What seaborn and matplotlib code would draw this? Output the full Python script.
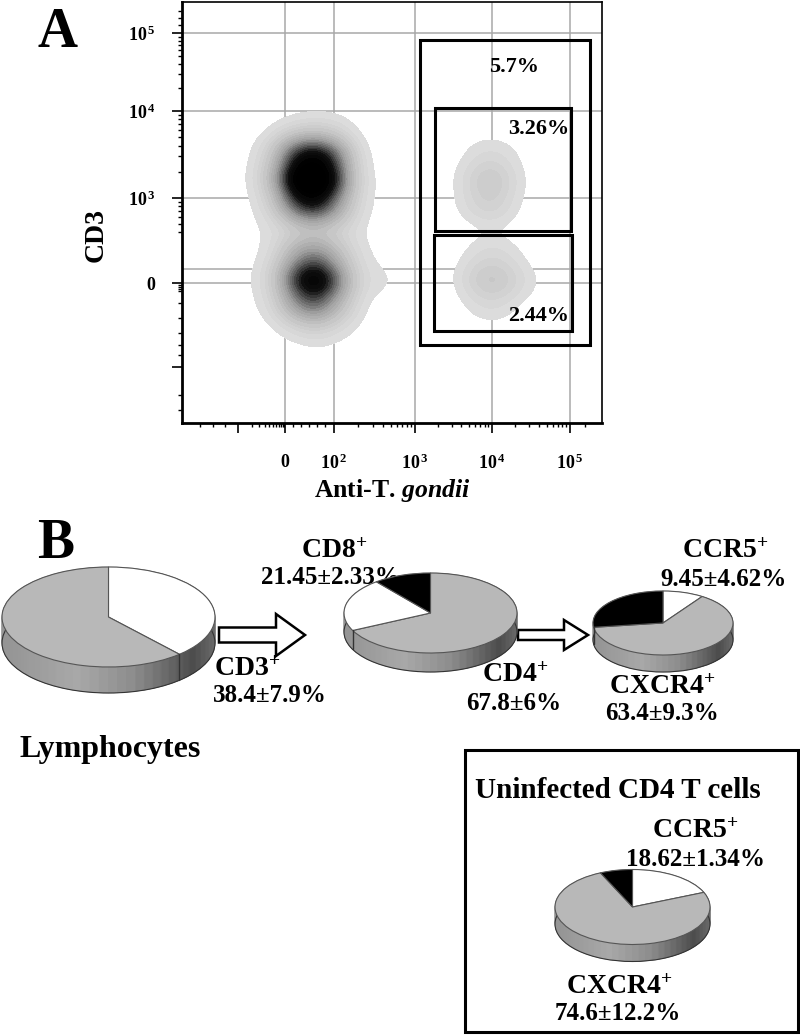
import numpy as np
import pandas as pd
import seaborn as sns
import matplotlib.pyplot as plt
from matplotlib.colors import LinearSegmentedColormap
from matplotlib.patches import FancyArrow, Rectangle

# flow plot axis ticks (biexponential channels, 1 channel = 1 px)
x_ticks = [-47, 0, 49, 130, 207, 285]
x_labels = ['', '0', r'10$^{\,2}$', r'10$^{\,3}$', r'10$^{\,4}$', r'10$^{\,5}$']
y_ticks = [-84, 0, 85, 172, 250]
y_labels = ['', '0', r'10$^{\,3}$', r'10$^{\,4}$', r'10$^{\,5}$']
x_grid = [0, 49, 130, 207, 285]
y_grid = [0, 14, 85, 172, 250]

# event density, one list per CD3 channel row
grid_x = [-30, -10, 10, 30, 50, 70, 90, 110, 175, 190, 207, 225, 245]
grid_y = [153, 128, 103, 78, 53, 28, 3, -22, -47]
row_153 = [0, 1, 4, 7, 6, 1, 0, 0, 0, 0, 0, 0, 0]
row_128 = [1, 12, 70, 95, 60, 4, 0, 0, 0, 3, 6, 3, 0]
row_103 = [2, 22, 110, 125, 80, 5, 1, 0, 1, 9, 18, 6, 0]
row_78 = [1, 10, 60, 85, 40, 4, 1, 0, 1, 7, 12, 3, 0]
row_53 = [1, 3, 6, 10, 6, 3, 0, 0, 0, 0, 1, 0, 0]
row_28 = [1, 3, 30, 50, 25, 4, 1, 0, 0, 3, 7, 4, 0]
row_3 = [2, 8, 70, 110, 60, 6, 4, 2, 1, 11, 18, 11, 3]
row_m22 = [1, 5, 38, 60, 25, 3, 0, 0, 0, 3, 6, 2, 0]
row_m47 = [0, 1, 3, 7, 3, 1, 0, 0, 0, 0, 0, 0, 0]
rows = [row_153, row_128, row_103, row_78, row_53, row_28, row_3, row_m22, row_m47]

# gates: left, bottom, right, top
gate_total = [135, -62, 305, 243]
gate_upper = [150, 52, 286, 175]
gate_lower = [149, -48, 287, 48]

# pies, clockwise from 12 o'clock
lymph_values = [38.4, 61.6]
lymph_colors = ['white', '#b8b8b8']
t_values = [67.8, 21.45, 10.75]
t_colors = ['#b8b8b8', 'white', 'black']
cd4_values = [9.45, 63.4, 27.15]
cd4_colors = ['white', '#b8b8b8', 'black']
unin_values = [18.62, 74.6, 6.78]
unin_colors = ['white', '#b8b8b8', 'black']

W, H = 800, 1035

sns.set_theme(style='white')
plt.rcParams['font.family'] = ['Liberation Serif', 'DejaVu Serif']
plt.rcParams['font.weight'] = 'bold'
plt.rcParams['text.color'] = 'black'
plt.rcParams['axes.labelcolor'] = 'black'
plt.rcParams['xtick.color'] = 'black'
plt.rcParams['ytick.color'] = 'black'
plt.rcParams['mathtext.fontset'] = 'custom'
plt.rcParams['mathtext.rm'] = 'Liberation Serif:bold'
plt.rcParams['mathtext.it'] = 'Liberation Serif:italic:bold'
plt.rcParams['mathtext.bf'] = 'Liberation Serif:bold'
plt.rcParams['mathtext.default'] = 'rm'


def box(left, top, right, bottom):
    return [left / W, 1 - bottom / H, (right - left) / W, (bottom - top) / H]


def log_ticks(lo, hi):
    return [lo + (hi - lo) * np.log10(k) for k in range(2, 10)]


def draw_pie(fig, values, colors, cx, cy, rx, ry, depth):
    ax = fig.add_axes(box(cx - rx - 3, cy - ry - 3, cx + rx + 3, cy + ry + depth + 3), zorder=2)
    ax.patch.set_alpha(0)
    d = depth / ry
    # side wall: stacked discs shaded by angle
    n = 72
    mids = (np.arange(n) + 0.5) / n * 360
    shade = np.interp(np.cos(np.radians(mids)), [-1, -0.3, 0.25, 0.8, 1], [0.58, 0.66, 0.55, 0.3, 0.42])
    side = [str(s) for s in shade]
    for k in np.linspace(d, 0, depth + 1):
        wedges, _ = ax.pie([1] * n, colors=side, startangle=0, center=(0, -k), radius=1, normalize=True)
        for w in wedges:
            w.set_edgecolor(w.get_facecolor())
            w.set_linewidth(0.4)
    ax.pie([1], colors=['none'], center=(0, -d), wedgeprops={'edgecolor': '#333333', 'linewidth': 0.8})
    ax.pie(values, colors=colors, startangle=90, counterclock=False, center=(0, 0),
           wedgeprops={'edgecolor': '#555555', 'linewidth': 0.8})
    # seams where a slice boundary meets the front of the wall
    for b in np.cumsum(values):
        a = np.radians(90 - b * 3.6 / sum(values) * 100)
        if np.sin(a) < 0:
            ax.plot([np.cos(a)] * 2, [np.sin(a), np.sin(a) - d], color='#333333', lw=1)
    ax.set_aspect('auto')
    ax.set_xlim(-(rx + 3) / rx, (rx + 3) / rx)
    ax.set_ylim(-1 - d - 3 / ry, 1 + 3 / ry)
    ax.axis('off')
    return ax


fig = plt.figure(figsize=(W / 100, H / 100), dpi=100)

# page overlay in pixel coordinates, for labels / arrows / frame
page = fig.add_axes([0, 0, 1, 1], zorder=1)
page.set_xlim(0, W)
page.set_ylim(H, 0)
page.axis('off')

# ---- panel A
ax = fig.add_axes(box(182, 2, 602, 423), zorder=3)
ax.set_xlim(-103, 317)
ax.set_ylim(-140, 281)

ax.vlines(x_grid, -140, 281, color='#a8a8a8', lw=1.1, zorder=0)
ax.hlines(y_grid, -103, 317, color='#a8a8a8', lw=1.1, zorder=0)

gx, gy = np.meshgrid(grid_x, grid_y)
events = pd.DataFrame({'x': gx.ravel(), 'y': gy.ravel(), 'n': np.array(rows).ravel()})
events = events[events['n'] > 0]
gray = LinearSegmentedColormap.from_list('flow', ['#dedede', '#c0c0c0', '#a0a0a0', '#606060', '#101010', '#000000', '#000000'])
sns.kdeplot(data=events, x='x', y='y', weights='n', fill=True, cmap=gray, levels=24, thresh=0.03,
            bw_adjust=0.42, gridsize=240, cut=4, ax=ax, zorder=1)
ax.set_xlim(-103, 317)
ax.set_ylim(-140, 281)

for left, bottom, right, top in [gate_total, gate_upper, gate_lower]:
    ax.add_patch(Rectangle((left, bottom), right - left, top - bottom, fill=False, ec='black', lw=2.2, zorder=4))
ax.text(229, 216, '5.7%', fontsize=16, ha='center', va='center', zorder=5)
ax.text(254, 154, '3.26%', fontsize=16, ha='center', va='center', zorder=5)
ax.text(254, -33, '2.44%', fontsize=16, ha='center', va='center', zorder=5)

ax.set_xticks(x_ticks)
ax.set_xticklabels(x_labels, fontsize=13)
ax.set_yticks(y_ticks)
ax.set_yticklabels(y_labels, fontsize=13)
ax.tick_params(axis='x', which='major', length=7, width=1.2, pad=15, bottom=True)
ax.tick_params(axis='y', which='major', length=7, width=1.2, pad=12, left=True)
ax.tick_params(axis='both', which='minor', length=3, width=1, bottom=True, left=True)
x_minor = log_ticks(49, 130) + log_ticks(130, 207) + log_ticks(207, 285) + [300, -85, -72, -60] \
    + [-2 - 45 * (1 - np.log10(k)) for k in range(2, 10)] + [-2, -1, 8, 16, 24, 32, 40]
y_minor = log_ticks(85, 172) + log_ticks(172, 250) + [258, 265, 272] + log_ticks(0, 85)[2:] \
    + [-2, -4, -6, -8, -20, -35, -50, -62, -72, -112, -127]
ax.set_xticks(x_minor, minor=True)
ax.set_yticks(y_minor, minor=True)
ax.set_xlabel('Anti-T. $\\mathit{gondii}$', fontsize=18.5, fontweight='bold', labelpad=3)
ax.set_ylabel('CD3', fontsize=20, fontweight='bold', y=0.447, labelpad=14)
for side, lw in [('left', 2), ('bottom', 2), ('top', 1.2), ('right', 1.2)]:
    ax.spines[side].set_visible(True)
    ax.spines[side].set_color('black')
    ax.spines[side].set_linewidth(lw)

# ---- panel B
draw_pie(fig, lymph_values, lymph_colors, 108.5, 617, 106.5, 50, 26)
draw_pie(fig, t_values, t_colors, 430.5, 613, 86.5, 40, 19)
draw_pie(fig, cd4_values, cd4_colors, 663, 623, 70, 32, 17)
draw_pie(fig, unin_values, unin_colors, 632.5, 907, 77.5, 37.5, 17)

for x0, x1, y, sw, hw, hl in [(219, 305, 635, 15, 42, 29), (518, 588, 635, 10, 30, 24)]:
    page.add_patch(FancyArrow(x0, y, x1 - x0, 0, width=sw, head_width=hw, head_length=hl,
                              length_includes_head=True, fc='white', ec='black', lw=1.8))

page.add_patch(Rectangle((465, 750), 333, 282, fill=False, ec='black', lw=2.2))

labels = [
    ('A', 58, 33, 40), ('B', 56, 544, 40),
    ('CD8$^{+}$', 334, 552, 20), ('21.45±2.33%', 330, 578, 18),
    ('CD3$^{+}$', 247, 669, 20), ('38.4±7.9%', 270, 695, 18),
    ('Lymphocytes', 110, 749, 23),
    ('CD4$^{+}$', 515, 675, 20), ('67.8±6%', 514, 703, 18),
    ('CCR5$^{+}$', 725, 552, 20), ('9.45±4.62%', 724, 580, 18),
    ('CXCR4$^{+}$', 662, 687, 20), ('63.4±9.3%', 662, 714, 18),
    ('Uninfected CD4 T cells', 618, 791, 21),
    ('CCR5$^{+}$', 695, 832, 20), ('18.62±1.34%', 695, 859, 18),
    ('CXCR4$^{+}$', 619, 987, 20), ('74.6±12.2%', 618, 1014, 18),
]
for txt, x, y, size in labels:
    page.text(x, y, txt, fontsize=size, ha='center', va='center', fontweight='bold')

fig.savefig('out.png', dpi=100)
